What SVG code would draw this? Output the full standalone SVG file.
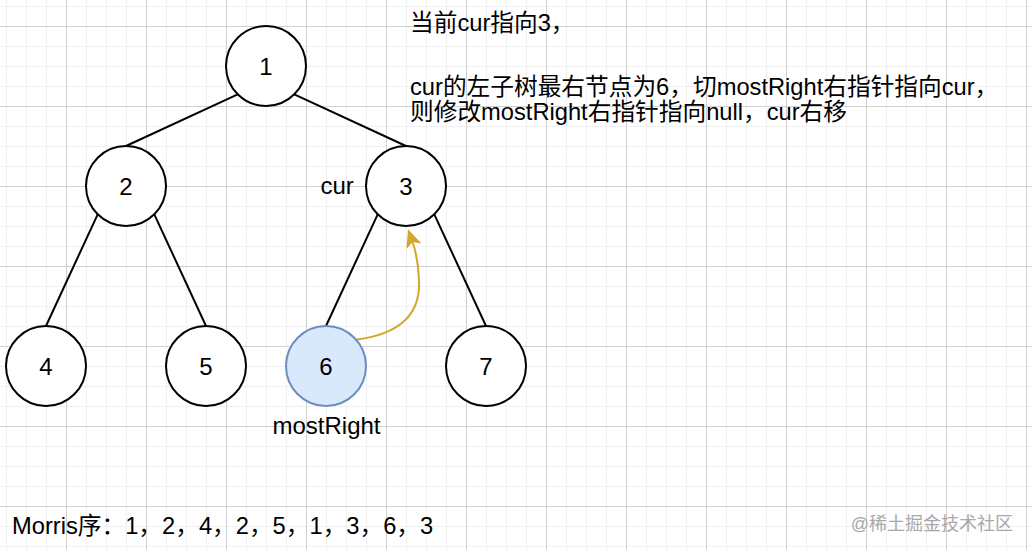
<svg xmlns="http://www.w3.org/2000/svg" width="1032" height="550" viewBox="0 0 1032 550">
  <style>
    .node { fill: #ffffff; stroke: #000000; stroke-width: 2; }
    .hl { fill: #dae8fc; stroke: #6c8ebf; stroke-width: 2; }
    .edge { stroke: #000000; stroke-width: 2; fill: none; }
    .ptr { stroke: #d4a72c; stroke-width: 2; fill: none; }
    text { font-family: "Liberation Sans", "Noto Sans CJK SC", sans-serif; font-size: 24px; fill: #000000; }
    .lbl { text-anchor: middle; }
    .note { font-size: 23.7px; }
    .wm { font-size: 18px; fill: #a8a8a8; text-anchor: end; }
  </style>
  <defs>
    <pattern id="grid" x="66" y="26" width="80" height="80" patternUnits="userSpaceOnUse">
      <rect x="20" y="0" width="1" height="80" fill="#f0f0f0"/>
      <rect x="40" y="0" width="1" height="80" fill="#f0f0f0"/>
      <rect x="60" y="0" width="1" height="80" fill="#f0f0f0"/>
      <rect x="0" y="20" width="80" height="1" fill="#f0f0f0"/>
      <rect x="0" y="40" width="80" height="1" fill="#f0f0f0"/>
      <rect x="0" y="60" width="80" height="1" fill="#f0f0f0"/>
      <rect x="0" y="0" width="1" height="80" fill="#d0d0d0"/>
      <rect x="0" y="0" width="80" height="1" fill="#d0d0d0"/>
    </pattern>
    <marker id="arrow" viewBox="0 0 18 16" markerWidth="18" markerHeight="16" refX="4.5" refY="8" orient="auto" markerUnits="userSpaceOnUse">
      <path d="M18,8 L0,0 L4.5,8 L0,16 Z" fill="#d4a72c"/>
    </marker>
  </defs>

  <rect x="0" y="0" width="1032" height="550" fill="#ffffff"/>
  <rect x="0" y="0" width="1032" height="550" fill="url(#grid)"/>

  <g id="connectors">
    <line class="edge" x1="237.7" y1="94.3" x2="126" y2="146"/>
    <line class="edge" x1="294.3" y1="94.3" x2="406" y2="146"/>
    <line class="edge" x1="97.7" y1="214.3" x2="46" y2="326"/>
    <line class="edge" x1="154.3" y1="214.3" x2="206" y2="326"/>
    <line class="edge" x1="377.7" y1="214.3" x2="326" y2="326"/>
    <line class="edge" x1="434.3" y1="214.3" x2="486" y2="326"/>
    <path class="ptr" d="M357,339.5 C398,334 421,316 419,280 C418.5,265 416,252 412.5,242" marker-end="url(#arrow)"/>
  </g>

  <g id="node1"><circle class="node" cx="266" cy="66" r="40"/><text class="lbl" x="266" y="74.5">1</text></g>
  <g id="node2"><circle class="node" cx="126" cy="186" r="40"/><text class="lbl" x="126" y="194.5">2</text></g>
  <g id="node3"><circle class="node" cx="406" cy="186" r="40"/><text class="lbl" x="406" y="194.5">3</text></g>
  <g id="node4"><circle class="node" cx="46" cy="366" r="40"/><text class="lbl" x="46" y="374.5">4</text></g>
  <g id="node5"><circle class="node" cx="206" cy="366" r="40"/><text class="lbl" x="206" y="374.5">5</text></g>
  <g id="node6"><circle class="hl" cx="326" cy="366" r="40"/><text class="lbl" x="326" y="374.5">6</text></g>
  <g id="node7"><circle class="node" cx="486" cy="366" r="40"/><text class="lbl" x="486" y="374.5">7</text></g>

  <g id="labels">
    <text x="320.5" y="194">cur</text>
    <text class="lbl" x="326.5" y="434">mostRight</text>
    <text class="note" x="410" y="31">当前cur指向3，</text>
    <text class="note" x="410" y="95">cur的左子树最右节点为6，切mostRight右指针指向cur，</text>
    <text class="note" x="410" y="120">则修改mostRight右指针指向null，cur右移</text>
    <text class="note" x="12" y="534">Morris序：1，2，4，2，5，1，3，6，3</text>
    <text class="wm" x="1013" y="530">@稀土掘金技术社区</text>
  </g>
</svg>
